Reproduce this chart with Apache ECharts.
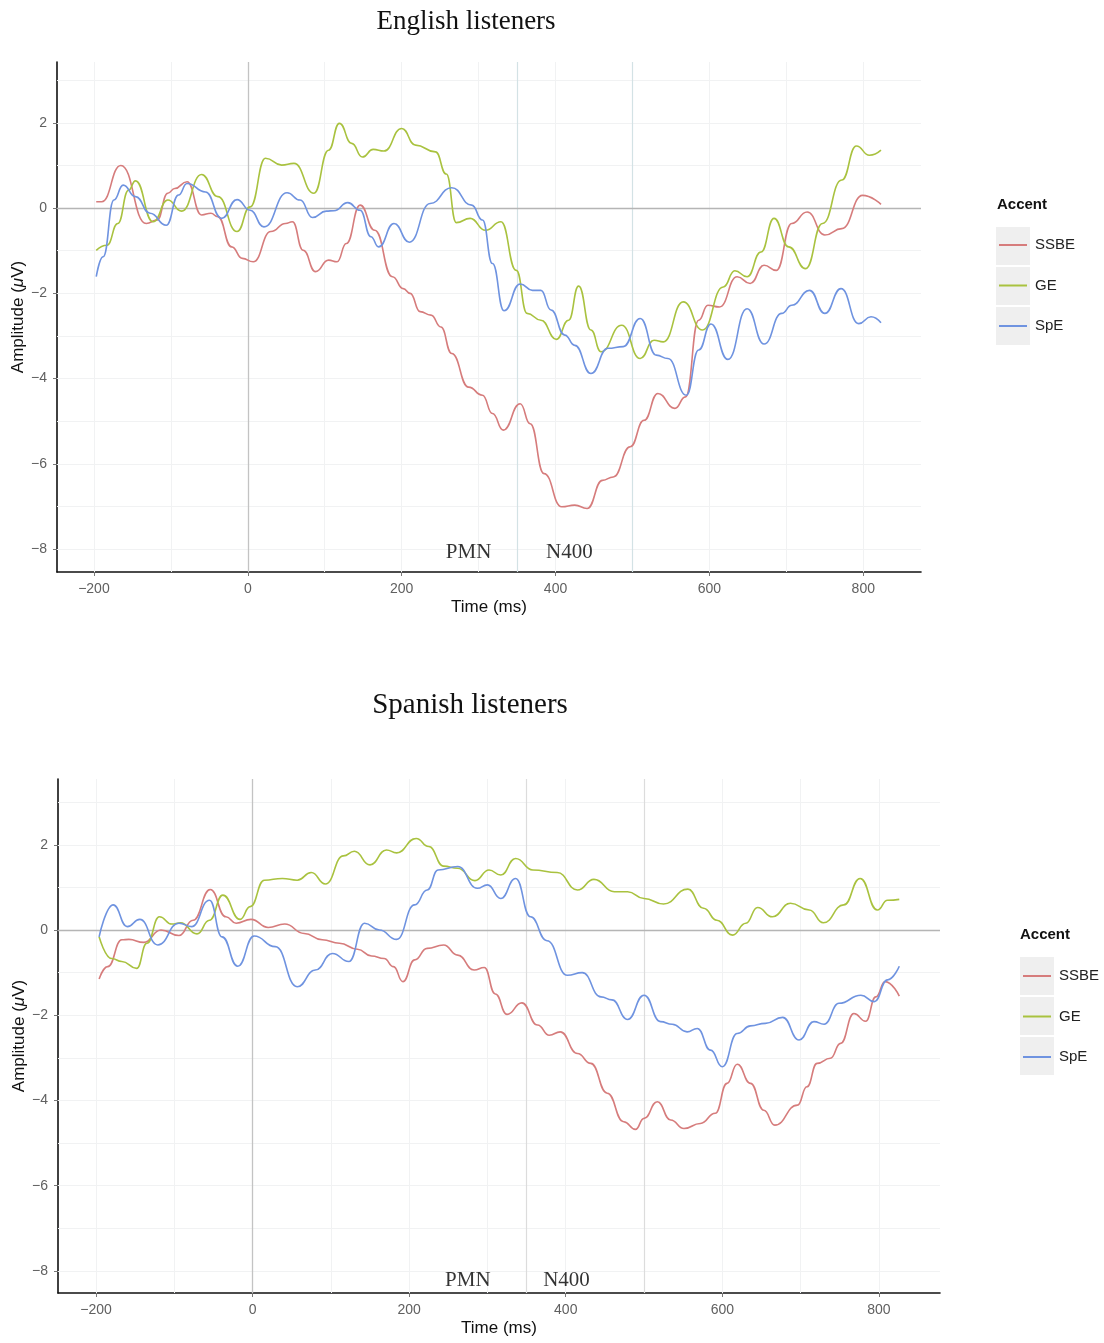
<!DOCTYPE html>
<html>
<head>
<meta charset="utf-8">
<script src="https://cdn.jsdelivr.net/npm/echarts@6/dist/echarts.min.js"></script>
<style>
html,body{margin:0;padding:0;background:#fff;}
#c{width:1104px;height:1343px;}
</style>
</head>
<body>
<div id="c"></div>
<script>
// ---------- tick / reference values ----------
const xTicks = [-200, 0, 200, 400, 600, 800];
const xMinor = [-100, 100, 300, 500, 700];
const yTicks = [-8, -6, -4, -2, 0, 2];
const yMinor = [-7, -5, -3, -1, 1, 3];
const windowLines = [350, 500];
const accents = ['SSBE', 'GE', 'SpE'];
const annotLabels = ['PMN', 'N400'];
const titles = ['English listeners', 'Spanish listeners'];

// ---------- English listeners ----------
const enSSBE_t = [-197,-190,-165,-132,-118,-104,-95,-79,-60,-48,-39,-21,-7,7,30,49,58,72,88,105,116,128,146,165,188,202,211,224,238,251,265,287,305,318,332,354,367,385,408,425,441,461,475,497,515,533,555,569,586,598,613,636,653,671,687,707,727,750,772,799,823];
const enSSBE_v = [0.15,0.15,1.0,-0.36,-0.28,0.35,0.46,0.62,-0.16,-0.12,-0.2,-0.91,-1.18,-1.26,-0.55,-0.36,-0.32,-0.99,-1.49,-1.22,-1.26,-0.83,0.07,-0.52,-1.61,-1.89,-2.0,-2.43,-2.51,-2.79,-3.41,-4.2,-4.39,-4.82,-5.21,-4.59,-5.06,-6.23,-7.01,-6.97,-7.05,-6.39,-6.31,-5.6,-4.98,-4.35,-4.7,-4.43,-2.63,-2.28,-2.32,-1.61,-1.77,-1.34,-1.46,-0.36,-0.09,-0.63,-0.48,0.30,0.09];
const enGE_t = [-197,-183,-169,-155,-146,-123,-104,-86,-60,-39,-14,3,23,44,60,86,105,119,135,149,163,177,200,218,244,258,271,289,309,329,349,363,381,401,417,430,446,459,486,510,528,540,566,591,618,633,649,667,684,703,725,747,772,791,808,823];
const enGE_v = [-0.99,-0.87,-0.36,0.42,0.64,-0.32,0.19,-0.07,0.79,0.27,-0.55,0.03,1.17,1.01,1.05,0.35,1.36,1.99,1.52,1.2,1.38,1.34,1.87,1.48,1.32,0.8,-0.34,-0.24,-0.52,-0.32,-1.46,-2.47,-2.63,-3.08,-2.63,-1.83,-2.86,-3.37,-2.75,-3.53,-3.1,-3.14,-2.2,-2.86,-1.85,-1.47,-1.61,-1.03,-0.24,-0.91,-1.42,-0.36,0.66,1.46,1.24,1.36];
const enSpE_t = [-197,-188,-174,-162,-146,-127,-106,-90,-79,-55,-34,-14,3,21,51,68,84,102,112,130,146,160,170,190,210,237,265,291,305,318,333,354,370,381,394,412,425,446,468,488,510,531,546,570,586,602,624,649,671,694,707,730,750,771,794,810,823];
const enSpE_v = [-1.61,-1.14,0.19,0.54,0.27,-0.12,-0.4,0.31,0.58,0.38,-0.24,0.2,-0.05,-0.44,0.36,0.19,-0.22,-0.07,-0.06,0.13,-0.05,-0.67,-0.91,-0.36,-0.8,0.11,0.48,0.07,-0.28,-1.3,-2.41,-1.78,-1.93,-1.93,-2.39,-2.98,-3.22,-3.88,-3.29,-3.25,-2.59,-3.45,-3.53,-4.39,-3.33,-2.72,-3.55,-2.36,-3.19,-2.47,-2.28,-1.93,-2.47,-1.89,-2.71,-2.55,-2.69];
const enAnnot_t = [287, 418];
const enAnnot_v = [-8.08, -8.08];

// ---------- Spanish listeners ----------
const esSSBE_t = [-196,-185,-167,-158,-139,-117,-94,-76,-54,-34,-21,-2,20,41,66,89,111,134,152,168,180,192,207,223,244,262,283,296,310,325,344,364,379,393,415,432,453,474,489,500,517,534,551,572,591,606,619,636,653,667,696,708,721,738,751,768,783,796,808,826];
const esSSBE_v = [-1.15,-0.86,-0.23,-0.22,-0.29,0.0,-0.13,0.23,0.95,0.31,0.16,0.25,0.06,0.14,-0.08,-0.23,-0.31,-0.45,-0.61,-0.67,-0.86,-1.21,-0.7,-0.43,-0.35,-0.59,-0.94,-0.88,-1.5,-1.98,-1.71,-2.23,-2.47,-2.39,-2.9,-3.13,-3.83,-4.5,-4.68,-4.42,-4.03,-4.46,-4.66,-4.54,-4.3,-3.6,-3.15,-3.6,-4.23,-4.58,-4.11,-3.68,-3.13,-3.01,-2.66,-1.96,-2.14,-1.57,-1.21,-1.55];
const esGE_t = [-196,-180,-167,-148,-135,-119,-103,-92,-71,-55,-38,-16,-3,15,38,57,75,93,116,130,150,171,184,209,225,244,262,284,302,317,336,358,389,415,436,462,479,500,525,556,576,593,613,630,645,664,687,711,729,755,776,798,811,826];
const esGE_v = [-0.16,-0.67,-0.74,-0.9,-0.31,0.31,0.14,0.17,-0.09,0.23,0.82,0.25,0.55,1.17,1.21,1.17,1.35,1.08,1.74,1.85,1.53,1.88,1.81,2.15,1.96,1.5,1.45,1.16,1.41,1.29,1.68,1.41,1.35,0.94,1.19,0.9,0.9,0.74,0.61,0.96,0.51,0.23,-0.12,0.16,0.53,0.31,0.63,0.47,0.17,0.59,1.21,0.47,0.7,0.72];
const esSpE_t = [-196,-178,-160,-144,-121,-94,-78,-55,-39,-19,2,29,57,80,102,123,143,162,184,207,223,237,262,287,300,317,336,355,376,402,421,445,459,479,500,521,536,555,568,585,600,619,636,655,677,698,717,730,749,777,794,811,826];
const esSpE_v = [-0.16,0.59,0.08,0.25,-0.35,0.16,0.08,0.7,-0.16,-0.85,-0.14,-0.39,-1.33,-0.94,-0.55,-0.74,0.16,0.0,-0.22,0.59,0.94,1.41,1.49,0.98,1.06,0.74,1.21,0.31,-0.25,-1.06,-1.0,-1.57,-1.64,-2.1,-1.53,-2.15,-2.21,-2.39,-2.31,-2.82,-3.21,-2.43,-2.25,-2.19,-2.05,-2.58,-2.15,-2.21,-1.72,-1.53,-1.68,-1.17,-0.85];
const esAnnot_t = [275, 401];
const esAnnot_v = [-8.22, -8.22];

// ---------- styling ----------
const colors = {SSBE: '#d67c7c', GE: '#a9c23f', SpE: '#6f93e0'};
const SANS = 'Liberation Sans, Arial, Helvetica, sans-serif';
const SERIF = 'Liberation Serif, Times New Roman, serif';

const panels = [
  {grid: {left: 57, top: 62, width: 864, height: 510}, xMin: -248, xMax: 875, yMin: -8.54, yMax: 3.43,
   series: [[enSSBE_t, enSSBE_v], [enGE_t, enGE_v], [enSpE_t, enSpE_v]],
   annot: [enAnnot_t, enAnnot_v], windowColor: '#d3e2e5',
   title: {x: 466, y: 8, size: 27},
   legend: {x: 999, y: 235, accentX: 997, accentY: 197, boxX: 996, boxY: 227}},
  {grid: {left: 58, top: 779, width: 882, height: 514}, xMin: -248.5, xMax: 878, yMin: -8.52, yMax: 3.545,
   series: [[esSSBE_t, esSSBE_v], [esGE_t, esGE_v], [esSpE_t, esSpE_v]],
   annot: [esAnnot_t, esAnnot_v], windowColor: '#dcdcdc',
   title: {x: 470, y: 691, size: 29},
   legend: {x: 1023, y: 966, accentX: 1020, accentY: 927, boxX: 1020, boxY: 957}}
];

const minusFmt = v => String(v).replace('-', '\u2212');

const option = {
  animation: false,
  backgroundColor: '#ffffff',
  title: [], grid: [], xAxis: [], yAxis: [], series: [], legend: [], graphic: []
};

panels.forEach((p, gi) => {
  option.title.push({
    text: titles[gi], left: p.title.x, top: p.title.y, textAlign: 'center', padding: 0,
    textStyle: {fontFamily: SERIF, fontSize: p.title.size, fontWeight: 'normal', color: '#111'}
  });
  option.grid.push(Object.assign({containLabel: false, outerBoundsMode: 'none'}, p.grid));
  option.xAxis.push({
    type: 'value', gridIndex: gi, min: p.xMin, max: p.xMax,
    name: 'Time (ms)', nameLocation: 'middle', nameGap: 27, nameMoveOverlap: false,
    nameTextStyle: {fontFamily: SANS, fontSize: 17, color: '#111'},
    axisLine: {show: true, onZero: false, lineStyle: {color: '#111', width: 1.6}},
    axisTick: {show: true, customValues: xTicks, length: 4, lineStyle: {color: '#777'}},
    axisLabel: {customValues: xTicks, margin: 10, fontFamily: SANS, fontSize: 14, color: '#606060', formatter: minusFmt},
    splitLine: {show: false}
  });
  option.yAxis.push({
    type: 'value', gridIndex: gi, min: p.yMin, max: p.yMax,
    name: '{a|Amplitude (}{b|\u03bc}{a|V)}', nameLocation: 'middle', nameGap: 30, nameMoveOverlap: false,
    nameTextStyle: {rich: {
      a: {fontFamily: SANS, fontSize: 17, color: '#111'},
      b: {fontFamily: SANS, fontSize: 17, color: '#111', fontStyle: 'italic'}
    }},
    axisLine: {show: true, onZero: false, lineStyle: {color: '#111', width: 1.6}},
    axisTick: {show: true, customValues: yTicks, length: 4, lineStyle: {color: '#777'}},
    axisLabel: {customValues: yTicks, margin: 10, fontFamily: SANS, fontSize: 14, color: '#606060', formatter: minusFmt},
    splitLine: {show: false}
  });

  // background grid + reference lines
  const faint = {color: '#f1f2f3', width: 1, type: 'solid'};
  const mlData = [];
  xTicks.concat(xMinor).forEach(x => mlData.push({xAxis: x, lineStyle: faint}));
  yTicks.concat(yMinor).forEach(y => mlData.push({yAxis: y, lineStyle: faint}));
  windowLines.forEach(x => mlData.push({xAxis: x, lineStyle: {color: p.windowColor, width: 1.2, type: 'solid'}}));
  mlData.push({xAxis: 0, lineStyle: {color: '#c3c3c3', width: 1.3, type: 'solid'}});
  mlData.push({yAxis: 0, lineStyle: {color: '#b5b5b5', width: 1.3, type: 'solid'}});
  option.series.push({
    name: 'refLines' + gi, type: 'line', xAxisIndex: gi, yAxisIndex: gi, data: [], z: 1, silent: true,
    markLine: {silent: true, z: 1, symbol: 'none', label: {show: false}, animation: false, data: mlData}
  });

  accents.forEach((name, si) => {
    const [ts, vs] = p.series[si];
    option.series.push({
      name, type: 'line', xAxisIndex: gi, yAxisIndex: gi, z: 3,
      data: ts.map((t, i) => [t, vs[i]]),
      showSymbol: false, symbol: 'none', smooth: 0.5, smoothMonotone: 'x',
      lineStyle: {color: colors[name], width: 1.6},
      itemStyle: {color: colors[name]}
    });
  });

  option.series.push({
    name: 'annot' + gi, type: 'scatter', xAxisIndex: gi, yAxisIndex: gi, z: 4, silent: true,
    symbolSize: 0,
    data: annotLabels.map((lab, i) => ({name: lab, value: [p.annot[0][i], p.annot[1][i]]})),
    label: {show: true, position: 'inside', formatter: d => d.name,
      fontFamily: SERIF, fontSize: 21, color: '#000'}
  });

  option.legend.push({
    orient: 'vertical', left: p.legend.x, top: p.legend.y, data: accents,
    icon: 'rect', itemWidth: 28, itemHeight: 2, itemGap: 20.5, padding: 0,
    textStyle: {fontFamily: SANS, fontSize: 15, lineHeight: 20, color: '#222', padding: [0, 0, 0, 3]}
  });
  option.graphic.push({
    type: 'text', left: p.legend.accentX, top: p.legend.accentY,
    style: {text: 'Accent', font: 'bold 15px ' + SANS, fill: '#111'}
  });
  [0, 1, 2].forEach(k => option.graphic.push({
    type: 'rect', left: p.legend.boxX, top: p.legend.boxY + k * 40, z: -1,
    shape: {width: 34, height: 38}, style: {fill: '#efefef'}
  }));
});

const chart = echarts.init(document.getElementById('c'), null, {renderer: 'canvas'});
chart.setOption(option);
</script>
</body>
</html>
